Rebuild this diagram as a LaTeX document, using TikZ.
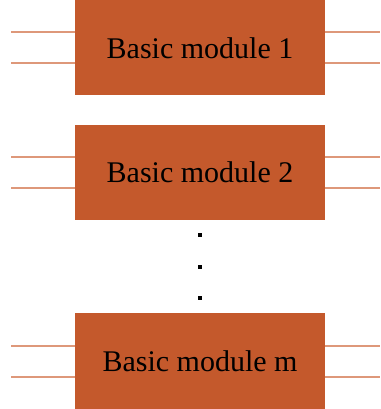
\documentclass[tikz,border=0pt]{standalone}
\usepackage{fontspec}
\setmainfont{Liberation Serif}
\definecolor{boxfill}{RGB}{196,89,44}
\definecolor{wire}{RGB}{222,152,122}
\begin{document}
\begin{tikzpicture}[x=1pt,y=-1pt,
  modbox/.style={fill=boxfill, draw=none, minimum width=250pt, minimum height=95pt, inner sep=0pt,
    font=\fontsize{30}{36}\selectfont, text=black},
  wireline/.style={draw=wire, line width=2pt},
  dotmark/.style={fill=black, minimum size=4pt, inner sep=0pt, draw=none}]
\useasboundingbox (0,0) rectangle (380,409);
\node[modbox] (m1) at (200,48) {Basic module 1};
\node[modbox] (m2) at (200,172) {Basic module 2};
\node[modbox, minimum height=96pt] (mm) at (200,361) {Basic module m};
\foreach \n in {m1,m2,mm}{
  \coordinate (\n-la) at ([yshift=15.5pt]\n.west);
  \coordinate (\n-lb) at ([yshift=-15.5pt]\n.west);
  \coordinate (\n-ra) at ([yshift=15.5pt]\n.east);
  \coordinate (\n-rb) at ([yshift=-15.5pt]\n.east);
  \coordinate (\n-la0) at (11,0 |- \n-la);
  \coordinate (\n-lb0) at (11,0 |- \n-lb);
  \coordinate (\n-ra1) at (380,0 |- \n-ra);
  \coordinate (\n-rb1) at (380,0 |- \n-rb);
  \draw[wireline] (\n-la0) -- (\n-la);
  \draw[wireline] (\n-lb0) -- (\n-lb);
  \draw[wireline] (\n-ra) -- (\n-ra1);
  \draw[wireline] (\n-rb) -- (\n-rb1);
}
\node[dotmark] (d1) at (200,235) {};
\node[dotmark] (d2) at (200,267) {};
\node[dotmark] (d3) at (200,298) {};
\end{tikzpicture}
\end{document}
